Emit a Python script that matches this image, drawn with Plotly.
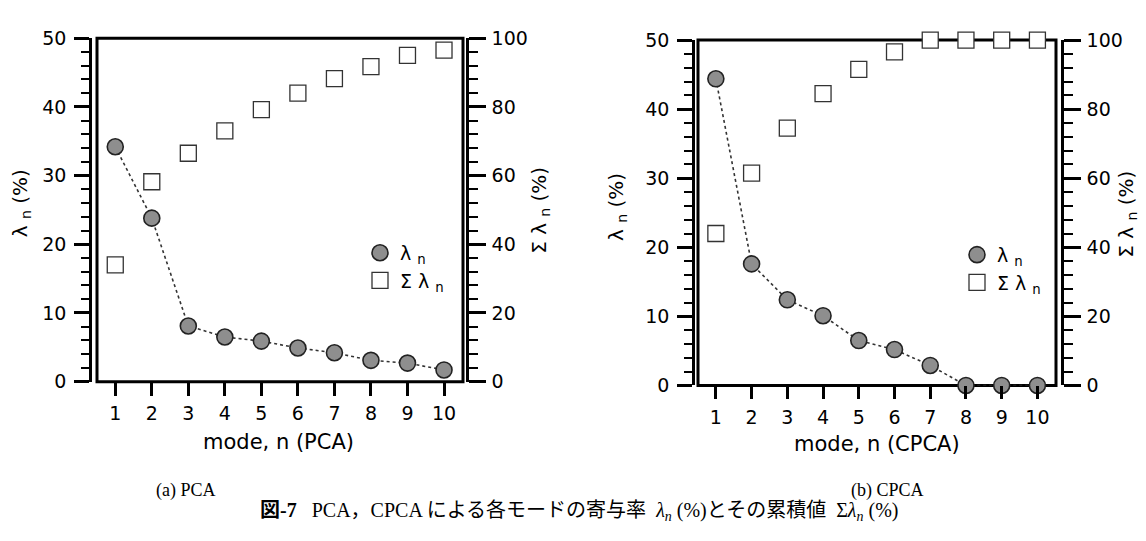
import plotly.graph_objects as go

# ---------------- data ----------------
modes = [1, 2, 3, 4, 5, 6, 7, 8, 9, 10]
pca_lambda = [34.2, 23.8, 8.1, 6.5, 5.9, 4.9, 4.2, 3.1, 2.7, 1.7]
pca_cum = [34.0, 58.2, 66.5, 73.0, 79.2, 84.0, 88.2, 91.7, 95.0, 96.5]
cpca_lambda = [44.4, 17.6, 12.4, 10.1, 6.5, 5.2, 2.9, 0.0, 0.0, 0.0]
cpca_cum = [44.0, 61.5, 74.5, 84.5, 91.5, 96.6, 100.0, 100.0, 100.0, 100.0]
left_ticks = [0, 10, 20, 30, 40, 50]
right_ticks = [0, 20, 40, 60, 80, 100]

W, H = 1146, 541
def px(x):
    return x / W
def py(y):
    return 1 - y / H

SANS = "DejaVu Sans"
SERIF = "Liberation Serif, Noto Sans CJK JP"
INK = "black"

circle_marker = dict(symbol="circle", size=16, color="#8e8e8e",
                     line=dict(color="#222222", width=1.6))
square_marker = dict(symbol="square", size=16, color="white",
                     line=dict(color="#333333", width=1.3))
dot_line = dict(color="#333333", width=1.6, dash="dot")

fig = go.Figure()

panels = [
    dict(lam=pca_lambda, cum=pca_cum, xa="x", ya="y", ya2="y2", leg="legend"),
    dict(lam=cpca_lambda, cum=cpca_cum, xa="x2", ya="y3", ya2="y4", leg="legend2"),
]
for p in panels:
    fig.add_trace(go.Scatter(x=modes, y=p["lam"], mode="lines", line=dot_line,
                             xaxis=p["xa"], yaxis=p["ya"], showlegend=False,
                             cliponaxis=False, hoverinfo="skip"))
    fig.add_trace(go.Scatter(x=modes, y=p["cum"], mode="markers", marker=square_marker,
                             xaxis=p["xa"], yaxis=p["ya2"], name="Σ λ <sub>n</sub>",
                             legend=p["leg"], legendrank=2, cliponaxis=False))
    fig.add_trace(go.Scatter(x=modes, y=p["lam"], mode="markers", marker=circle_marker,
                             xaxis=p["xa"], yaxis=p["ya"], name="λ <sub>n</sub>",
                             legend=p["leg"], legendrank=1, cliponaxis=False))

tickfont = dict(family=SANS, size=19, color=INK)

def xaxis_cfg(domain, anchor):
    return dict(domain=domain, anchor=anchor, range=[0.5, 10.52],
                tickmode="array", tickvals=modes, ticktext=[str(m) for m in modes],
                ticks="outside", ticklen=13, tickwidth=2.5, tickcolor=INK,
                showline=False, showgrid=False, zeroline=False,
                tickfont=tickfont, ticklabelstandoff=2)

def yleft_cfg(domain, position):
    return dict(domain=domain, anchor="free", position=position, range=[0, 50],
                tickmode="array", tickvals=left_ticks,
                ticks="outside", ticklen=15, tickwidth=2.5, tickcolor=INK,
                minor=dict(dtick=2, ticks="outside", ticklen=8, tickwidth=1.5, tickcolor=INK),
                showline=True, linewidth=2.5, linecolor=INK,
                showgrid=False, zeroline=False, tickfont=tickfont, ticklabelstandoff=4)

def yright_cfg(overlay, position):
    return dict(overlaying=overlay, side="right", anchor="free", position=position,
                range=[0, 100], tickmode="array", tickvals=right_ticks,
                ticks="outside", ticklen=17, tickwidth=2.5, tickcolor=INK,
                minor=dict(dtick=4, ticks="outside", ticklen=9, tickwidth=1.5, tickcolor=INK),
                showline=True, linewidth=2.5, linecolor=INK,
                showgrid=False, zeroline=False, tickfont=tickfont, ticklabelstandoff=2)

legend_font = dict(family=SANS, size=19, color=INK)
fig.update_layout(
    width=W, height=H, margin=dict(l=0, r=0, t=0, b=0),
    paper_bgcolor="white", plot_bgcolor="white",
    xaxis=xaxis_cfg([px(89), px(455)], "y"),
    yaxis=yleft_cfg([py(378), py(20)], px(82)),
    yaxis2=yright_cfg("y", px(459)),
    xaxis2=xaxis_cfg([px(690), px(1048)], "y3"),
    yaxis3=yleft_cfg([py(382), py(22)], px(685)),
    yaxis4=yright_cfg("y3", px(1054)),
    legend=dict(x=px(352), y=py(224), xanchor="left", yanchor="top",
                bgcolor="rgba(0,0,0,0)", font=legend_font,
                itemclick=False, itemdoubleclick=False, tracegroupgap=0),
    legend2=dict(x=px(949), y=py(226), xanchor="left", yanchor="top",
                 bgcolor="rgba(0,0,0,0)", font=legend_font,
                 itemclick=False, itemdoubleclick=False, tracegroupgap=0),
    showlegend=True,
)

# plot frames (box around each plot area)
for xr, yr in [("x domain", "y domain"), ("x2 domain", "y3 domain")]:
    fig.add_shape(type="rect", xref=xr, yref=yr, x0=0, x1=1, y0=0, y1=1,
                  line=dict(color=INK, width=3), layer="below")

ytitle_font = dict(family=SANS, size=20, color=INK)
xtitle_font = dict(family=SANS, size=21, color=INK)
annotations = [
    dict(x=px(13), y=py(192), text="λ <sub>n</sub> (%)", textangle=-90, font=ytitle_font),
    dict(x=px(532), y=py(200), text="Σ λ <sub>n</sub> (%)", textangle=-90, font=ytitle_font),
    dict(x=px(609), y=py(196), text="λ <sub>n</sub> (%)", textangle=-90, font=ytitle_font),
    dict(x=px(1119), y=py(204), text="Σ λ <sub>n</sub> (%)", textangle=-90, font=ytitle_font),
    dict(x=px(270), y=py(441), text="mode, n (PCA)", font=xtitle_font),
    dict(x=px(869), y=py(443), text="mode, n (CPCA)", font=xtitle_font),
]
for a in annotations:
    fig.add_annotation(xref="paper", yref="paper", showarrow=False,
                       xanchor="center", yanchor="middle", **a)

cap_font = dict(family=SERIF, size=18, color=INK)
fig.add_annotation(xref="paper", yref="paper", showarrow=False, x=px(146), y=py(504),
                   text="(a) PCA", font=cap_font)
fig.add_annotation(xref="paper", yref="paper", showarrow=False, x=px(918), y=py(504),
                   text="(b) CPCA", font=cap_font)
fig.add_annotation(xref="paper", yref="paper", showarrow=False, x=px(571), y=py(528),
                   text="<b>図-7</b>   PCA，CPCA による各モードの寄与率  <i>λ<sub>n</sub></i> (%)とその累積値  Σ<i>λ<sub>n</sub></i> (%)",
                   font=dict(family=SERIF, size=20, color=INK))

fig.write_html("out.html")
